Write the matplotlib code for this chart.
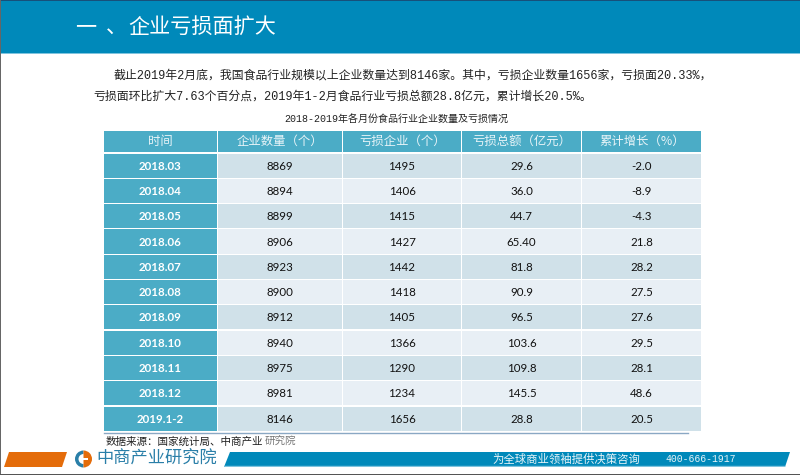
import matplotlib
matplotlib.use("Agg")
import matplotlib.pyplot as plt
from matplotlib.patches import Rectangle, Polygon, Wedge

# dados da tabela
months = ["2018.03", "2018.04", "2018.05", "2018.06", "2018.07", "2018.08",
          "2018.09", "2018.10", "2018.11", "2018.12", "2019.1-2"]
firms = ["8869", "8894", "8899", "8906", "8923", "8900", "8912", "8940", "8975", "8981", "8146"]
loss_firms = ["1495", "1406", "1415", "1427", "1442", "1418", "1405", "1366", "1290", "1234", "1656"]
loss_total = ["29.6", "36.0", "44.7", "65.40", "81.8", "90.9", "96.5", "103.6", "109.8", "145.5", "28.8"]
growth = ["-2.0", "-8.9", "-4.3", "21.8", "28.2", "27.5", "27.6", "29.5", "28.1", "48.6", "20.5"]
headers = ["时间", "企业数量（个）", "亏损企业（个）", "亏损总额（亿元）", "累计增长（%）"]

line1 = "截止2019年2月底，我国食品行业规模以上企业数量达到8146家。其中，亏损企业数量1656家，亏损面20.33%，"
line2 = "亏损面环比扩大7.63个百分点，2019年1-2月食品行业亏损总额28.8亿元，累计增长20.5%。"
caption = "2018-2019年各月份食品行业企业数量及亏损情况"
slogan = "为全球商业领袖提供决策咨询"
phone = "400-666-1917"
logo = "中商产业研究院"

BLUE = "#0089BA"
TEAL = "#4BACC6"
MONO = ["Liberation Mono", "Noto Sans CJK SC"]
SANS = ["Lato", "Noto Sans CJK SC"]
CJK = ["Noto Sans CJK SC", "DejaVu Sans"]

fig = plt.figure(figsize=(8, 4.75), dpi=100)
ax = fig.add_axes([0, 0, 1, 1])
ax.set_xlim(0, 800)
ax.set_ylim(475, 0)
ax.axis("off")

# faixa do topo e moldura
ax.add_patch(Rectangle((0, 0), 800, 53, color=BLUE, lw=0))
ax.add_patch(Rectangle((0, 0), 800, 1.2, color="#17507A", lw=0))
ax.add_patch(Rectangle((0, 52.5), 800, 1, color="#7FC4DE", lw=0))
ax.add_patch(Rectangle((0, 0), 1, 475, color="#666666", lw=0))
ax.add_patch(Rectangle((0, 473.5), 800, 1.5, color="#555555", lw=0))
ax.text(75, 27, "一", color="white", fontsize=15.2, family=CJK, va="center")
ax.text(106, 27, "、", color="white", fontsize=15.2, family=CJK, va="center")
ax.text(128, 27, "企业亏损面扩大", color="white", fontsize=15.2, family=CJK, va="center")

ax.text(114, 75, line1, fontsize=8.55, color="#222222", family=MONO, va="center")
ax.text(93, 97, line2, fontsize=8.55, color="#222222", family=MONO, va="center")
ax.text(284, 120, caption, fontsize=7.2, color="#222222", family=MONO, va="center")

# tabela
col_edges = [104, 217.5, 343, 462, 582, 702]
head_top, head_bot = 131, 151.5
row_top = 153.5
row_h = 25.3
columns = [months, firms, loss_firms, loss_total, growth]

for c, head in enumerate(headers):
    x0, x1 = col_edges[c], col_edges[c + 1]
    ax.add_patch(Rectangle((x0, head_top), x1 - x0 - 1, head_bot - head_top, color=TEAL, lw=0))
    ax.text((x0 + x1) / 2, (head_top + head_bot) / 2, head, color="#E8F4F8", fontsize=8.9,
            family=CJK, ha="center", va="center")

for r in range(len(months)):
    y = row_top + r * row_h
    for c, col in enumerate(columns):
        x0, x1 = col_edges[c], col_edges[c + 1]
        if c == 0:
            fill = TEAL
        else:
            fill = "#D0E1E9" if r % 2 == 0 else "#E8EFF5"
        ax.add_patch(Rectangle((x0, y), x1 - x0 - 1, row_h - 1.2, color=fill, lw=0))
        ax.text((x0 + x1) / 2 - 0.5, y + row_h / 2, col[r],
                color="white" if c == 0 else "#111111",
                fontsize=8.3, fontweight="bold" if c == 0 else "normal",
                family=SANS, ha="center", va="center")

ax.plot([104, 688], [432.7, 432.7], color="#8AA8C4", lw=1)
ax.text(106, 442, "数据来源：国家统计局、中商产业", fontsize=7.6, color="#222222", family=CJK, va="center")
ax.text(265, 442, "研究院", fontsize=7.6, color="#777777", family=CJK, va="center")

# rodape
ax.add_patch(Polygon([(9, 452), (67, 452), (62, 467), (4, 467)], color="#E46C0A", lw=0))
ax.add_patch(Polygon([(230, 452), (790, 452), (785, 467), (224, 467)], color=BLUE, lw=0))
ax.add_patch(Polygon([(224.5, 465.8), (785.5, 465.8), (785, 467), (224, 467)], color="#7FC4DE", lw=0))
ax.add_patch(Wedge((83.5, 459), 8.5, 90, 270, width=3.5, color="#2A7FA8", lw=0))
ax.add_patch(Wedge((83.5, 459), 8.5, 270, 90, color="#E46C0A", lw=0))
ax.add_patch(Rectangle((82.5, 458), 5, 1.6, color="white", lw=0))
ax.text(96, 459, logo, fontsize=12.4, color="#2A7FA8", family=CJK, va="center")
ax.text(492, 459.5, slogan, fontsize=8.2, color="#E8F4F8", family=CJK, va="center")
ax.text(665, 459, phone, fontsize=7, color="#E8F4F8", family=MONO, va="center")

fig.savefig("out.png", dpi=100)
